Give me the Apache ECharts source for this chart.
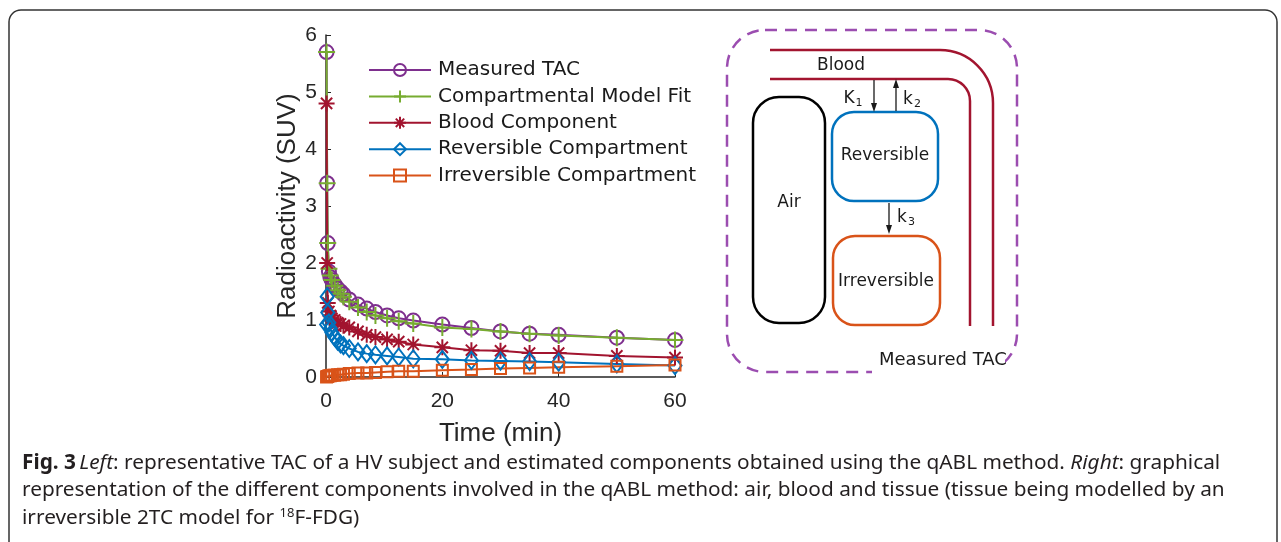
<!DOCTYPE html>
<html>
<head>
<meta charset="utf-8">
<script src="https://cdn.jsdelivr.net/npm/echarts@6/dist/echarts.min.js"></script>
<style>
html,body{margin:0;padding:0;background:#fff;}
#chart{width:1281px;height:542px;}
</style>
</head>
<body>
<div id="chart"></div>
<script>
// ---- data ----
var timeMin = [0.1,0.2,0.3,0.5,0.75,1,1.5,2,2.5,3,4,5.5,7,8.5,10.5,12.5,15,20,25,30,35,40,50,60];
var measuredTAC = [5.7,3.4,2.35,1.85,1.75,1.7,1.62,1.55,1.5,1.45,1.36,1.27,1.2,1.14,1.08,1.03,0.99,0.92,0.86,0.80,0.76,0.74,0.69,0.65];
var modelFit = [5.7,3.4,2.35,1.9,1.78,1.7,1.6,1.52,1.46,1.41,1.32,1.22,1.14,1.08,1.03,0.98,0.94,0.87,0.84,0.80,0.76,0.73,0.69,0.65];
var bloodComp = [4.8,2.0,1.3,1.15,1.08,1.03,1.0,0.95,0.93,0.9,0.87,0.8,0.74,0.7,0.66,0.62,0.57,0.52,0.47,0.46,0.42,0.42,0.37,0.34];
var reversibleComp = [0.92,1.41,1.13,0.95,0.85,0.78,0.7,0.63,0.58,0.55,0.5,0.44,0.41,0.39,0.37,0.35,0.32,0.31,0.29,0.28,0.27,0.26,0.23,0.2];
var irreversibleComp = [0.0,0.01,0.01,0.02,0.02,0.03,0.03,0.04,0.04,0.05,0.06,0.07,0.07,0.08,0.09,0.1,0.1,0.12,0.13,0.15,0.16,0.17,0.19,0.21];
var seriesNames = ['Measured TAC','Compartmental Model Fit','Blood Component','Reversible Compartment','Irreversible Compartment'];
var xTicks = [0,20,40,60];
var yTicks = [0,1,2,3,4,5,6];

function pairs(ys){ return timeMin.map(function(t,i){ return [t, ys[i]]; }); }

var SYM = {
  circle: 'path://M1,0A1,1,0,1,1,-1,0A1,1,0,1,1,1,0Z',
  plus: 'path://M0,-1L0,1M-1,0L1,0',
  star: 'path://M0,-1L0,1M-1,0L1,0M-0.7,-0.7L0.7,0.7M-0.7,0.7L0.7,-0.7',
  diamond: 'path://M0,-1L0.72,0L0,1L-0.72,0Z',
  square: 'path://M-1,-1L1,-1L1,1L-1,1Z'
};
var colors = ['#7E2F8E','#77AC30','#A2142F','#0072BD','#D95319'];
var symbols = [SYM.circle, SYM.plus, SYM.star, SYM.diamond, SYM.square];
var symSizes = [[14,14],[17,17],[16,16],[13,17],[11,11]];
var dataSets = [measuredTAC, modelFit, bloodComp, reversibleComp, irreversibleComp];

var series = dataSets.map(function(d,i){
  return {
    name: seriesNames[i],
    type: 'line',
    data: pairs(d),
    symbol: symbols[i],
    symbolSize: symSizes[i],
    showAllSymbol: true,
    clip: false,
    lineStyle: {color: colors[i], width: 2},
    itemStyle: {color: 'rgba(255,255,255,0)', borderColor: colors[i], borderWidth: 2},
    emphasis: {disabled: true},
    animation: false
  };
});

var txt = '#262626';
var diagFont = 'DejaVu Sans';
var red = '#A2142F';
var capFont = '20.8px "Noto Sans"';

var option = {
  animation: false,
  backgroundColor: '#fff',
  grid: {left: 326, top: 35, width: 349, height: 342, containLabel: false},
  xAxis: {
    type: 'value', min: 0, max: 60, interval: 20,
    name: 'Time (min)', nameLocation: 'middle', nameGap: 44,
    nameTextStyle: {fontFamily: 'Liberation Sans', fontSize: 26, color: txt},
    axisLine: {show: true, lineStyle: {color: txt, width: 1.5}},
    axisTick: {show: true, inside: true, length: 5, lineStyle: {color: txt}},
    axisLabel: {fontFamily: 'Liberation Sans', fontSize: 21, color: txt, margin: 14,
      formatter: function(v){ return xTicks.indexOf(v) >= 0 ? String(v) : ''; }},
    splitLine: {show: false}
  },
  yAxis: {
    type: 'value', min: 0, max: 6, interval: 1,
    name: 'Radioactivity (SUV)', nameLocation: 'middle', nameGap: 25,
    nameTextStyle: {fontFamily: 'Liberation Sans', fontSize: 26, color: txt},
    axisLine: {show: true, lineStyle: {color: txt, width: 1.5}},
    axisTick: {show: true, inside: true, length: 5, lineStyle: {color: txt}},
    axisLabel: {fontFamily: 'Liberation Sans', fontSize: 21, color: txt, margin: 9,
      formatter: function(v){ return yTicks.indexOf(v) >= 0 ? String(v) : ''; }},
    splitLine: {show: false}
  },
  legend: {
    left: 368, top: 60, orient: 'vertical', padding: 0,
    itemWidth: 62, itemHeight: 15, itemGap: 6.4,
    textStyle: {fontFamily: diagFont, fontSize: 20, color: '#1a1a1a', padding: [0,0,0,2]},
    data: seriesNames
  },
  series: series,
  graphic: [
    // figure frame
    {type: 'rect', z: 0, shape: {x: 9, y: 10, width: 1268, height: 620, r: 12},
      style: {fill: 'none', stroke: '#333', lineWidth: 1.5}},
    // dashed measured TAC region
    {type: 'rect', shape: {x: 727, y: 30, width: 290, height: 342, r: 38},
      style: {fill: 'none', stroke: '#9B4DB0', lineWidth: 2.5, lineDash: [12, 8]}},
    {type: 'rect', shape: {x: 872, y: 350, width: 133, height: 30},
      style: {fill: '#fff', stroke: 'none'}},
    {type: 'text', style: {text: 'Measured TAC', x: 879, y: 360, verticalAlign: 'middle',
      font: '18px "DejaVu Sans"', fill: '#1a1a1a'}},
    // blood vessel (outer)
    {type: 'line', shape: {x1: 770, y1: 50, x2: 940, y2: 50}, style: {stroke: red, lineWidth: 2.5}},
    {type: 'arc', shape: {cx: 940, cy: 103, r: 53, startAngle: -Math.PI / 2, endAngle: 0, clockwise: true},
      style: {fill: 'none', stroke: red, lineWidth: 2.5}},
    {type: 'line', shape: {x1: 993, y1: 103, x2: 993, y2: 326}, style: {stroke: red, lineWidth: 2.5}},
    // blood vessel (inner)
    {type: 'line', shape: {x1: 770, y1: 79, x2: 948, y2: 79}, style: {stroke: red, lineWidth: 2.5}},
    {type: 'arc', shape: {cx: 948, cy: 101, r: 22, startAngle: -Math.PI / 2, endAngle: 0, clockwise: true},
      style: {fill: 'none', stroke: red, lineWidth: 2.5}},
    {type: 'line', shape: {x1: 970, y1: 101, x2: 970, y2: 326}, style: {stroke: red, lineWidth: 2.5}},
    {type: 'text', style: {text: 'Blood', x: 841, y: 66, align: 'center', verticalAlign: 'middle',
      font: '17px "DejaVu Sans"', fill: '#1a1a1a'}},
    // air
    {type: 'rect', shape: {x: 753, y: 97, width: 72, height: 226, r: 26},
      style: {fill: 'none', stroke: '#000', lineWidth: 2.5}},
    {type: 'text', style: {text: 'Air', x: 789, y: 203, align: 'center', verticalAlign: 'middle',
      font: '17px "DejaVu Sans"', fill: '#1a1a1a'}},
    // reversible
    {type: 'rect', shape: {x: 832, y: 112, width: 106, height: 89, r: 22},
      style: {fill: 'none', stroke: '#0072BD', lineWidth: 2.5}},
    {type: 'text', style: {text: 'Reversible', x: 885, y: 156, align: 'center', verticalAlign: 'middle',
      font: '17px "DejaVu Sans"', fill: '#1a1a1a'}},
    // irreversible
    {type: 'rect', shape: {x: 833, y: 236, width: 107, height: 89, r: 22},
      style: {fill: 'none', stroke: '#D95319', lineWidth: 2.5}},
    {type: 'text', style: {text: 'Irreversible', x: 886, y: 282, align: 'center', verticalAlign: 'middle',
      font: '17px "DejaVu Sans"', fill: '#1a1a1a'}},
    // arrows
    {type: 'line', shape: {x1: 874, y1: 80, x2: 874, y2: 106}, style: {stroke: '#1a1a1a', lineWidth: 1.3}},
    {type: 'polygon', shape: {points: [[874,112],[871,103],[877,103]]}, style: {fill: '#1a1a1a'}},
    {type: 'line', shape: {x1: 896, y1: 111, x2: 896, y2: 85}, style: {stroke: '#1a1a1a', lineWidth: 1.3}},
    {type: 'polygon', shape: {points: [[896,79],[893,88],[899,88]]}, style: {fill: '#1a1a1a'}},
    {type: 'line', shape: {x1: 889, y1: 203, x2: 889, y2: 228}, style: {stroke: '#1a1a1a', lineWidth: 1.3}},
    {type: 'polygon', shape: {points: [[889,234],[886,225],[892,225]]}, style: {fill: '#1a1a1a'}},
    {type: 'text', style: {text: '{m|K}{s|1}', x: 853, y: 99, align: 'center', verticalAlign: 'middle',
      rich: {m: {font: '17px "DejaVu Sans"', fill: '#1a1a1a'}, s: {font: '11px "DejaVu Sans"', fill: '#1a1a1a', padding: [8,0,0,1]}}}},
    {type: 'text', style: {text: '{m|k}{s|2}', x: 912, y: 100, align: 'center', verticalAlign: 'middle',
      rich: {m: {font: '17px "DejaVu Sans"', fill: '#1a1a1a'}, s: {font: '11px "DejaVu Sans"', fill: '#1a1a1a', padding: [8,0,0,1]}}}},
    {type: 'text', style: {text: '{m|k}{s|3}', x: 906, y: 218, align: 'center', verticalAlign: 'middle',
      rich: {m: {font: '17px "DejaVu Sans"', fill: '#1a1a1a'}, s: {font: '11px "DejaVu Sans"', fill: '#1a1a1a', padding: [8,0,0,1]}}}},
    // caption
    {type: 'text', style: {
      text: '{b|Fig. 3} {i|Left}{n|: representative TAC of a HV subject and estimated components obtained using the qABL method. }{i|Right}{n|: graphical}',
      x: 22, y: 463, verticalAlign: 'middle',
      rich: {
        b: {font: 'bold ' + capFont, fill: '#231f20'},
        i: {font: 'italic ' + capFont, fill: '#231f20'},
        n: {font: capFont, fill: '#231f20'}
      }}},
    {type: 'text', style: {
      text: 'representation of the different components involved in the qABL method: air, blood and tissue (tissue being modelled by an',
      x: 22, y: 490, verticalAlign: 'middle', font: capFont, fill: '#231f20'}},
    {type: 'text', style: {
      text: '{n|irreversible 2TC model for }{s|18}{n|F-FDG)}',
      x: 22, y: 518, verticalAlign: 'middle',
      rich: {
        n: {font: capFont, fill: '#231f20'},
        s: {font: '13px "Noto Sans"', fill: '#231f20', padding: [0,0,10,0]}
      }}}
  ]
};

var chart = echarts.init(document.getElementById('chart'), null, {renderer: 'canvas'});
chart.setOption(option);
</script>
</body>
</html>
